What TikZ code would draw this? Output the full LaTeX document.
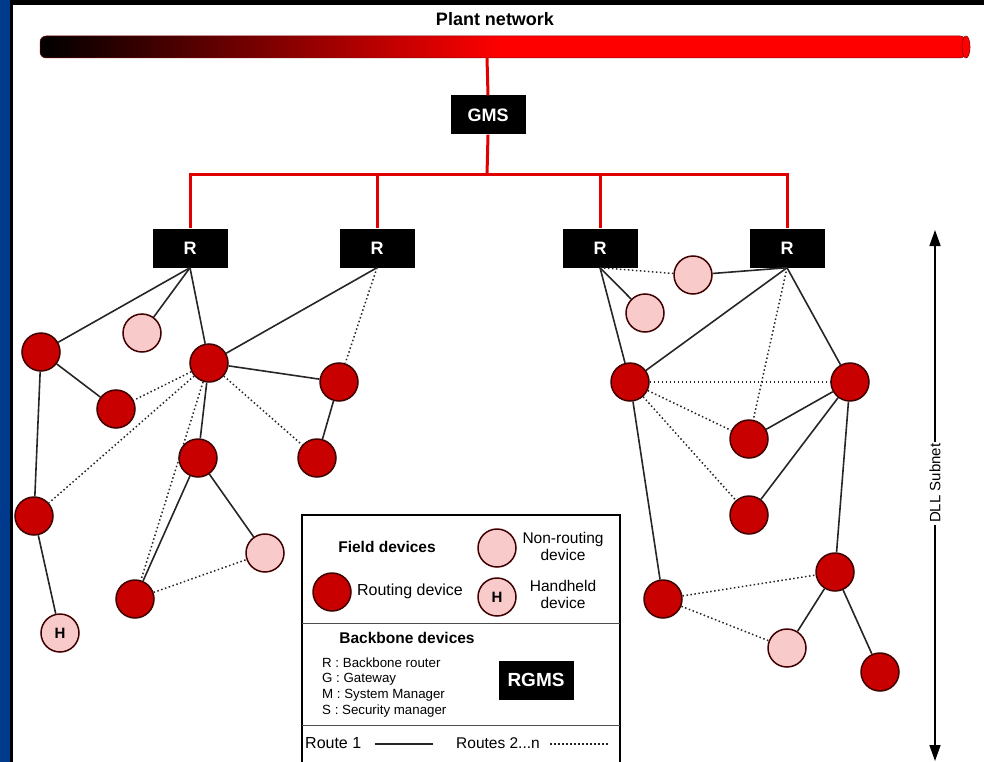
\documentclass[tikz,border=0pt]{standalone}
\usepackage{fontspec}
\setmainfont{Liberation Sans}
\usetikzlibrary{arrows.meta}

\definecolor{routered}{HTML}{C80000}
\definecolor{nonpink}{HTML}{F8CACA}
\definecolor{netred}{HTML}{E00000}
\definecolor{sideblue}{HTML}{003A8C}
\pgfdeclarehorizontalshading{plantbar}{100bp}{color(0bp)=(black); color(25bp)=(black); color(50bp)=(red); color(100bp)=(red)}

\begin{document}
\begin{tikzpicture}[x=1pt,y=-1pt,
        rdev/.style = {circle, draw=black!75!red, line width=1.5pt, fill=routered, minimum size=38pt, inner sep=0pt},
        ndev/.style = {rdev, fill=nonpink, font=\bfseries\fontsize{15}{17}\selectfont},
        bbone/.style = {fill=black, text=white, font=\bfseries\fontsize{18}{20}\selectfont, minimum width=75pt, minimum height=39pt, inner sep=0pt},
        route/.style = {line width=1.6pt, black!85},
        alt/.style = {route, line width=1.5pt, dash pattern=on 1.5pt off 2.5pt},
        net/.style = {netred, line width=3pt},
        keytext/.style = {font=\fontsize{15.5}{17}\selectfont, align=center, inner sep=1pt}
    ]
        \useasboundingbox (0,0) rectangle (984,762);
        % frame
        \fill[sideblue] (0,0) rectangle (10,762);
        \fill[black] (10,0) rectangle (13,762);
        \fill[black] (13,0) rectangle (984,5);

        % plant network
        \node[font=\bfseries\fontsize{18}{20}\selectfont] (plant) at (495,19) {Plant network};
        \shadedraw[shading=plantbar, draw=black!50!red, line width=0.5pt, rounded corners=6pt] (40,36) rectangle (966,58);
        \draw[fill=red, draw=black!45!red, line width=0.6pt] (966,47) ellipse (4 and 11);
        \coordinate (tap) at (487,58);
        \coordinate (bus) at (487,175);

        % backbone
        \node[bbone] (gms) at (488,115) {GMS};
        \node[bbone] (r1) at (190,248) {R};
        \node[bbone] (r2) at (377,248) {R};
        \node[bbone] (r3) at (600,248) {R};
        \node[bbone] (r4) at (787,248) {R};
        \draw[net] (tap) -- (gms.north);
        \draw[net] (gms.south) -- (bus);
        \draw[net] (r1.north) -- (r1.north |- bus) -- (r4.north |- bus) -- (r4.north);
        \foreach \r in {r2,r3}
            \draw[net] (\r.north) -- (\r.north |- bus);

        % left subnet
        \node[rdev] (la) at (41,352) {};
        \node[ndev] (lp) at (142,333) {};
        \node[rdev] (lhub) at (209,363) {};
        \node[rdev] (lc) at (116,409) {};
        \node[rdev] (ld) at (339,382) {};
        \node[rdev] (le) at (198,458) {};
        \node[rdev] (lf) at (317,458) {};
        \node[rdev] (lg) at (34,516) {};
        \node[ndev] (lh) at (60,633) {H};
        \node[rdev] (li) at (135,599) {};
        \node[ndev] (lq) at (265,553) {};

        \foreach \a/\b in {r1.south/la, r1.south/lp, r1.south/lhub, r2.south/lhub,
                la/lc, la/lg, lg/lh, lhub/ld, lhub/le, ld/lf, le/li, le/lq}
            \draw[route] (\a) -- (\b);
        \foreach \a/\b in {r2.south/ld, lhub/lc, lhub/lg, lhub/lf, lhub/li, li/lq}
            \draw[alt] (\a) -- (\b);

        % right subnet
        \node[ndev] (rp) at (693,275) {};
        \node[ndev] (rq) at (645,313) {};
        \node[rdev] (rj) at (630,382) {};
        \node[rdev] (rk) at (850,382) {};
        \node[rdev] (rl) at (749,439) {};
        \node[rdev] (rm) at (749,515) {};
        \node[rdev] (rn) at (663,599) {};
        \node[rdev] (ro) at (835,572) {};
        \node[ndev] (rs) at (787,648) {};
        \node[rdev] (rt) at (880,672) {};

        \foreach \a/\b in {rp/r4.south, r3.south/rq, r3.south/rj, r4.south/rj, r4.south/rk,
                rj/rn, rk/rl, rk/rm, rk/ro, ro/rs, ro/rt}
            \draw[route] (\a) -- (\b);
        \foreach \a/\b in {r3.south/rp, r4.south/rl, rj/rk, rj/rl, rj/rm, rn/ro, rn/rs}
            \draw[alt] (\a) -- (\b);

        % DLL subnet
        \coordinate (dlltop) at (935,230);
        \coordinate (dllbot) at (935,761);
        \draw[line width=1.6pt, {Triangle[length=16pt,width=11pt]}-{Triangle[length=16pt,width=11pt]}] (dlltop) -- (dllbot)
            node[pos=0.477, fill=white, rotate=90, inner sep=2pt, font=\fontsize{15}{17}\selectfont] (dll) {DLL Subnet};

        % legend
        \draw[line width=1.8pt, fill=white] (302,515) rectangle (620,766);
        \draw[black!70, line width=0.8pt] (302,623) -- (620,623);
        \draw[black!70, line width=0.8pt] (302,725) -- (620,725);
        \node[keytext, font=\bfseries\fontsize{15.5}{17}\selectfont] (keyfield) at (387,547) {Field devices};
        \node[ndev] (keyn) at (497,548) {};
        \node[keytext] (keyntext) at (563,546) {Non-routing\\device};
        \node[rdev] (keyr) at (332,592) {};
        \node[keytext, font=\fontsize{16}{18}\selectfont] (keyrtext) at (410,591) {Routing device};
        \node[ndev] (keyh) at (497,597) {H};
        \node[keytext] (keyhtext) at (563,594) {Handheld\\device};
        \node[keytext, font=\bfseries\fontsize{15.5}{17}\selectfont] (keybb) at (407,638) {Backbone devices};
        \node[anchor=west, inner sep=0pt, font=\fontsize{13.3}{15}\selectfont] (keyrr) at (322,663) {R : Backbone router};
        \node[anchor=west, inner sep=0pt, font=\fontsize{13.3}{15}\selectfont] (keyg) at (322,679) {G : Gateway};
        \node[anchor=west, inner sep=0pt, font=\fontsize{13.3}{15}\selectfont] (keym) at (322,695) {M : System Manager};
        \node[anchor=west, inner sep=0pt, font=\fontsize{13.3}{15}\selectfont] (keys) at (322,711) {S : Security manager};
        \node[bbone, font=\bfseries\fontsize{19}{21}\selectfont] (keyrgms) at (536,680) {RGMS};
        \node[keytext, anchor=west, font=\fontsize{16}{18}\selectfont] (keyroute) at (304,743) {Route 1};
        \coordinate (solida) at (375,744);
        \coordinate (solidb) at (433,744);
        \draw[route] (solida) -- (solidb);
        \node[keytext, anchor=west] (keyroutes) at (455,743) {Routes 2...n};
        \coordinate (dota) at (550,744);
        \coordinate (dotb) at (610,744);
        \draw[alt] (dota) -- (dotb);
    \end{tikzpicture}
\end{document}
